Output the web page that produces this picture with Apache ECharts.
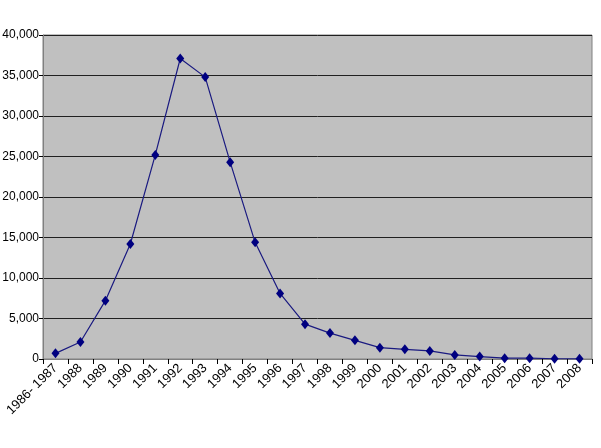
<!DOCTYPE html>
<html><head><meta charset="utf-8">
<script src="https://cdn.jsdelivr.net/npm/echarts@6/dist/echarts.min.js"></script>
<style>html,body{margin:0;padding:0;background:#fff}#c{width:601px;height:448px}</style>
</head><body><div id="c"></div>
<script>
const categories = ["1986- 1987","1988","1989","1990","1991","1992","1993","1994","1995","1996","1997","1998","1999","2000","2001","2002","2003","2004","2005","2006","2007","2008"];
const values = [700,2100,7200,14200,25200,37100,34800,24300,14400,8100,4300,3200,2300,1400,1200,1000,500,300,100,100,30,20];
const yTicks = {min:0,max:40000,interval:5000};
const chart = echarts.init(document.getElementById('c'));
chart.setOption({
  animation:false,
  grid:{left:43,right:9,top:35,bottom:89,show:true,backgroundColor:'#c0c0c0',borderColor:'#808080',borderWidth:1,outerBoundsMode:'none',containLabel:false},
  xAxis:{type:'category',data:categories,boundaryGap:true,
    axisLine:{lineStyle:{color:'#808080'}},
    axisTick:{show:true,alignWithLabel:false,length:5,lineStyle:{color:'#000'}},
    axisLabel:{rotate:45,interval:0,color:'#000',fontFamily:'Liberation Sans',fontSize:13,margin:7}},
  yAxis:{type:'value',min:yTicks.min,max:yTicks.max,interval:yTicks.interval,
    axisLine:{show:true,lineStyle:{color:'#808080'}},
    axisTick:{show:true,length:4,lineStyle:{color:'#000'}},
    splitLine:{lineStyle:{color:'#202020',width:1}},
    axisLabel:{color:'#000',fontFamily:'Liberation Sans',fontSize:12,margin:4,
      formatter:v=>v.toLocaleString('en-US')}},
  series:[{type:'line',data:values,symbol:'diamond',symbolSize:[8,10],
    lineStyle:{color:'#1a1a80',width:1.2},itemStyle:{color:'#000080'}}]
});
</script></body></html>
